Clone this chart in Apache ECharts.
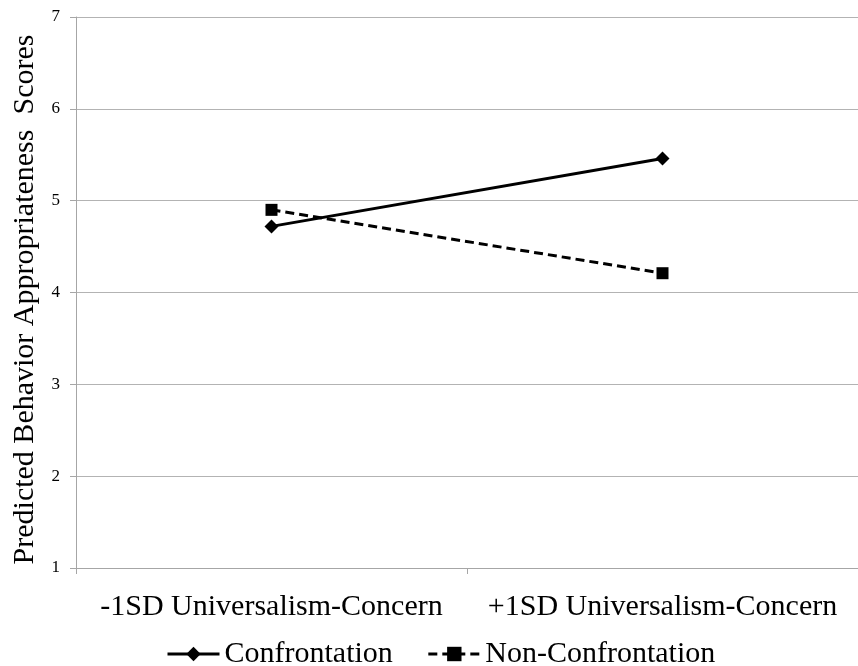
<!DOCTYPE html>
<html><head><meta charset="utf-8">
<script src="https://cdn.jsdelivr.net/npm/echarts@6/dist/echarts.min.js"></script>
<style>html,body{margin:0;padding:0;background:#fff}#c{width:858px;height:666px}</style>
</head><body><div id="c"></div>
<script>
const categories = ['-1SD Universalism-Concern', '+1SD Universalism-Concern'];
const confrontation = [4.72, 5.46];
const nonConfrontation = [4.90, 4.21];
const yTicks = [1, 2, 3, 4, 5, 6, 7];
const yName = 'Predicted Behavior Appropriateness  Scores';

const font = '"Liberation Serif", "Times New Roman", serif';
const chart = echarts.init(document.getElementById('c'), null, {renderer: 'canvas'});
chart.setOption({
  animation: false,
  backgroundColor: '#fff',
  grid: {left: 76, top: 17, bottom: 98, width: 788, containLabel: false},
  xAxis: {
    type: 'category', data: categories, boundaryGap: true,
    axisLine: {lineStyle: {color: '#a6a6a6', width: 1}},
    axisTick: {show: true, length: 6, interval: 0, lineStyle: {color: '#a6a6a6'}},
    axisLabel: {color: '#000', fontFamily: font, fontSize: 30, margin: 24, interval: 0}
  },
  yAxis: {
    type: 'value', min: yTicks[0], max: yTicks[yTicks.length - 1], interval: 1,
    name: yName, nameLocation: 'middle', nameGap: 32,
    nameTextStyle: {color: '#000', fontFamily: font, fontSize: 30, padding: [0, 14, 0, 0]},
    axisLine: {show: true, lineStyle: {color: '#a6a6a6', width: 1}},
    axisTick: {show: true, length: 6, lineStyle: {color: '#a6a6a6'}},
    axisLabel: {color: '#000', fontFamily: font, fontSize: 17, margin: 16},
    splitLine: {show: true, lineStyle: {color: '#b3b3b3', width: 1}}
  },
  legend: {
    top: 634, left: 161, itemWidth: 52, itemHeight: 18, itemGap: 34,
    textStyle: {color: '#000', fontFamily: font, fontSize: 30},
    lineStyle: {width: 3},
    data: ['Confrontation', 'Non-Confrontation']
  },
  series: [
    {name: 'Confrontation', type: 'line', data: confrontation,
     symbol: 'diamond', symbolSize: 14,
     lineStyle: {color: '#000', width: 3},
     itemStyle: {color: '#000'}},
    {name: 'Non-Confrontation', type: 'line', data: nonConfrontation,
     symbol: 'rect', symbolSize: 12,
     lineStyle: {color: '#000', width: 3, type: [9, 5]},
     itemStyle: {color: '#000'}}
  ]
});
</script></body></html>
